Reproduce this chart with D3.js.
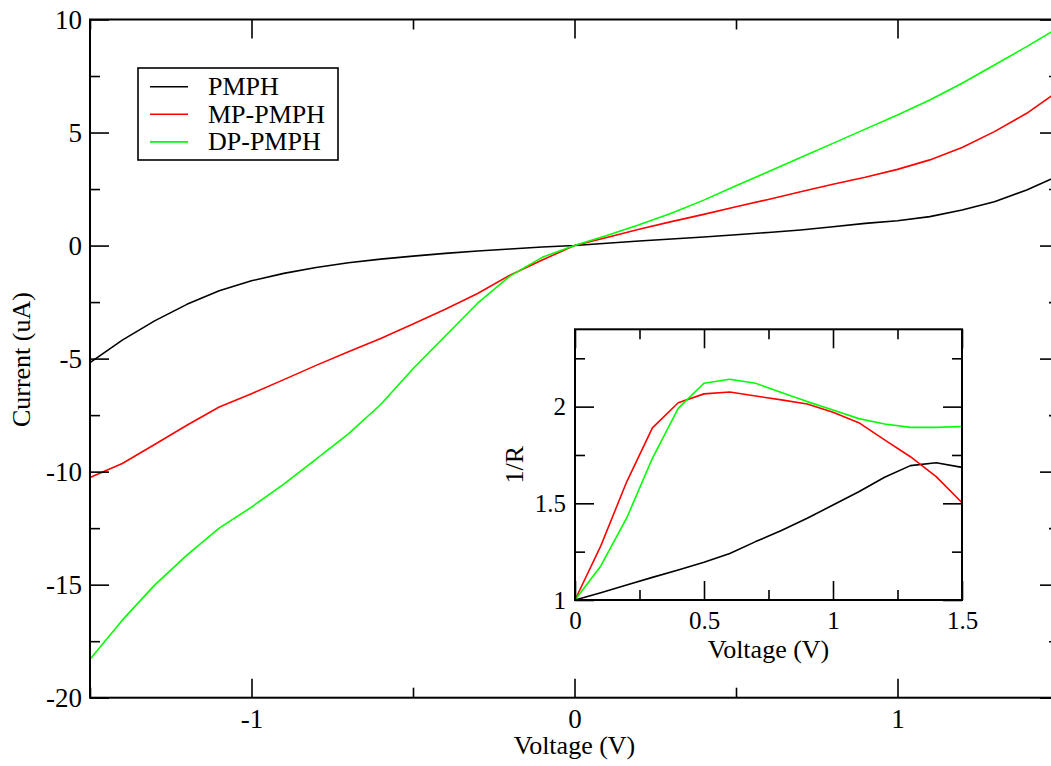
<!DOCTYPE html>
<html>
<head>
<meta charset="utf-8">
<script src="https://cdn.jsdelivr.net/npm/d3@7"></script>
<style>
  html, body { margin: 0; padding: 0; background: #fff; }
  svg { display: block; }
</style>
</head>
<body>
<svg id="chart" width="1051" height="766"></svg>
<script>
// ---------- DATA ----------
const voltage = [-1.5,-1.4,-1.3,-1.2,-1.1,-1.0,-0.9,-0.8,-0.7,-0.6,-0.5,-0.4,-0.3,-0.2,-0.1,0,
                 0.1,0.2,0.3,0.4,0.5,0.6,0.7,0.8,0.9,1.0,1.1,1.2,1.3,1.4,1.5];
const currentPMPH   = [-5.18,-4.18,-3.33,-2.6,-2.0,-1.56,-1.23,-0.97,-0.76,-0.6,-0.465,-0.346,-0.243,-0.155,-0.066,0,
                       0.1,0.2,0.29,0.38,0.48,0.58,0.69,0.83,0.98,1.1,1.28,1.57,1.94,2.46,3.1];
const currentMPPMPH = [-10.26,-9.64,-8.8,-7.95,-7.14,-6.55,-5.93,-5.3,-4.7,-4.11,-3.47,-2.82,-2.12,-1.31,-0.64,0,
                       0.36,0.72,1.06,1.38,1.72,2.04,2.38,2.71,3.02,3.37,3.79,4.34,5.04,5.85,6.85];
const currentDPPMPH = [-18.3,-16.57,-15.02,-13.69,-12.5,-11.57,-10.55,-9.45,-8.33,-7.03,-5.45,-4.0,-2.55,-1.35,-0.52,0,
                       0.45,0.92,1.43,2.01,2.65,3.27,3.9,4.52,5.15,5.78,6.44,7.18,7.99,8.8,9.65];

const insetVoltage = [0,0.1,0.2,0.3,0.4,0.5,0.6,0.7,0.8,0.9,1.0,1.1,1.2,1.3,1.4,1.5];
const invRPMPH   = [1.0,1.038,1.078,1.117,1.155,1.195,1.241,1.302,1.359,1.423,1.491,1.56,1.635,1.695,1.71,1.686];
const invRMPPMPH = [1.0,1.28,1.61,1.89,2.02,2.066,2.076,2.055,2.035,2.014,1.971,1.917,1.828,1.741,1.638,1.503];
const invRDPPMPH = [1.0,1.176,1.423,1.733,1.991,2.121,2.142,2.121,2.073,2.026,1.983,1.938,1.91,1.893,1.893,1.897];

const seriesNames  = ["PMPH", "MP-PMPH", "DP-PMPH"];
const seriesColors = ["#000000", "#ff0000", "#00ff00"];

const mainXTicks = [-1, 0, 1];
const mainXMinor = [-1.5, -0.5, 0.5, 1.5];
const mainYTicks = [-20, -15, -10, -5, 0, 5, 10];
const mainYMinor = [-17.5, -12.5, -7.5, -2.5, 2.5, 7.5];
const insetXTicks = [0, 0.5, 1, 1.5];
const insetXMinor = [0.25, 0.75, 1.25];
const insetYTicks = [1, 1.5, 2];
const insetYMinor = [1.25, 1.75, 2.25];

// ---------- LAYOUT ----------
const FONT = '"Liberation Serif"';
const svg = d3.select("#chart").style("font-family", FONT);
const M = { left: 90, right: 1059, top: 19.5, bottom: 697.7 };
const x = d3.scaleLinear().domain([-1.5, 1.5]).range([M.left, M.right]);
const y = d3.scaleLinear().domain([-20, 10]).range([M.bottom, M.top]);

const I = { left: 575, right: 962, top: 329.3, bottom: 600 };
const xi = d3.scaleLinear().domain([0, 1.5]).range([I.left, I.right]);
const yi = d3.scaleLinear().domain([1, 2.4]).range([I.bottom, I.top]);

const MAJ = 19, MIN = 10;

function styleAxis(g, fontSize) {
  g.select(".domain").remove();
  g.attr("font-family", "Liberation Serif").attr("font-size", fontSize)
   .style("font-family", FONT).style("font-size", fontSize + "px");
  g.selectAll(".tick line").attr("stroke", "#000").attr("stroke-width", 1.6);
  g.selectAll(".tick text")
    .attr("font-family", "Liberation Serif")
    .style("font-family", FONT).style("font-size", fontSize + "px").attr("fill", "#000");
}

function frameAxes(xs, ys, box, xt, xm, yt, ym, fontSize, xfmt, yfmt, xPad, yPad) {
  svg.append("g").attr("transform", `translate(0,${box.bottom})`)
    .call(d3.axisBottom(xs).tickValues(xt).tickSize(-MAJ).tickPadding(xPad).tickFormat(xfmt))
    .call(g => styleAxis(g, fontSize));
  svg.append("g").attr("transform", `translate(0,${box.bottom})`)
    .call(d3.axisBottom(xs).tickValues(xm).tickSize(-MIN).tickFormat(""))
    .call(g => styleAxis(g, fontSize));
  svg.append("g").attr("transform", `translate(0,${box.top})`)
    .call(d3.axisTop(xs).tickValues(xt).tickSize(-MAJ).tickFormat(""))
    .call(g => styleAxis(g, fontSize));
  svg.append("g").attr("transform", `translate(0,${box.top})`)
    .call(d3.axisTop(xs).tickValues(xm).tickSize(-MIN).tickFormat(""))
    .call(g => styleAxis(g, fontSize));
  svg.append("g").attr("transform", `translate(${box.left},0)`)
    .call(d3.axisLeft(ys).tickValues(yt).tickSize(-MAJ).tickPadding(yPad).tickFormat(yfmt))
    .call(g => styleAxis(g, fontSize));
  svg.append("g").attr("transform", `translate(${box.left},0)`)
    .call(d3.axisLeft(ys).tickValues(ym).tickSize(-MIN).tickFormat(""))
    .call(g => styleAxis(g, fontSize));
  svg.append("g").attr("transform", `translate(${box.right},0)`)
    .call(d3.axisRight(ys).tickValues(yt).tickSize(-MAJ).tickFormat(""))
    .call(g => styleAxis(g, fontSize));
  svg.append("g").attr("transform", `translate(${box.right},0)`)
    .call(d3.axisRight(ys).tickValues(ym).tickSize(-MIN).tickFormat(""))
    .call(g => styleAxis(g, fontSize));
  svg.append("rect")
    .attr("x", box.left).attr("y", box.top)
    .attr("width", box.right - box.left).attr("height", box.bottom - box.top)
    .attr("fill", "none").attr("stroke", "#000").attr("stroke-width", 2);
}

const fmt = d => String(d);

function label(sel, size) {
  return sel.style("font-family", FONT).style("font-size", size + "px").attr("fill", "#000");
}

// ---------- MAIN PLOT ----------
const mainSeries = [currentPMPH, currentMPPMPH, currentDPPMPH];
const lineMain = d3.line().x(d => x(d[0])).y(d => y(d[1]));
mainSeries.forEach((vals, i) => {
  svg.append("path")
    .datum(voltage.map((v, k) => [v, vals[k]]))
    .attr("d", lineMain)
    .attr("fill", "none")
    .attr("stroke", seriesColors[i])
    .attr("stroke-width", 1.6)
    .attr("stroke-linejoin", "round");
});

frameAxes(x, y, M, mainXTicks, mainXMinor, mainYTicks, mainYMinor, 27, fmt, fmt, 11, 8);

svg.append("text")
  .attr("x", x(0)).attr("y", 754)
  .attr("text-anchor", "middle")
  .call(label, 26)
  .text("Voltage (V)");
svg.append("text")
  .attr("transform", `translate(30,${(M.top + M.bottom) / 2 + 1}) rotate(-90)`)
  .attr("text-anchor", "middle")
  .call(label, 26)
  .text("Current (uA)");

// legend
const leg = svg.append("g");
leg.append("rect").attr("x", 138).attr("y", 68).attr("width", 200).attr("height", 92)
  .attr("fill", "#fff").attr("stroke", "#000").attr("stroke-width", 1.6);
seriesNames.forEach((name, i) => {
  const ly = 86.7 + i * 27.6;
  leg.append("line").attr("x1", 150).attr("x2", 188).attr("y1", ly).attr("y2", ly)
    .attr("stroke", seriesColors[i]).attr("stroke-width", 1.6);
  leg.append("text").attr("x", 208).attr("y", ly + 8.5).call(label, 26).text(name);
});

// ---------- INSET ----------
svg.append("rect")
  .attr("x", I.left).attr("y", I.top)
  .attr("width", I.right - I.left).attr("height", I.bottom - I.top)
  .attr("fill", "#fff");

const insetSeries = [invRPMPH, invRMPPMPH, invRDPPMPH];
const lineInset = d3.line().x(d => xi(d[0])).y(d => yi(d[1]));
insetSeries.forEach((vals, i) => {
  svg.append("path")
    .datum(insetVoltage.map((v, k) => [v, vals[k]]))
    .attr("d", lineInset)
    .attr("fill", "none")
    .attr("stroke", seriesColors[i])
    .attr("stroke-width", 1.6)
    .attr("stroke-linejoin", "round");
});

frameAxes(xi, yi, I, insetXTicks, insetXMinor, insetYTicks, insetYMinor, 25, fmt, fmt, 11, 9);

svg.append("text")
  .attr("x", xi(0.75)).attr("y", 658)
  .attr("text-anchor", "middle")
  .call(label, 26)
  .text("Voltage (V)");
svg.append("text")
  .attr("transform", `translate(523,${(I.top + I.bottom) / 2}) rotate(-90)`)
  .attr("text-anchor", "middle")
  .call(label, 26)
  .text("1/R");
</script>
</body>
</html>
